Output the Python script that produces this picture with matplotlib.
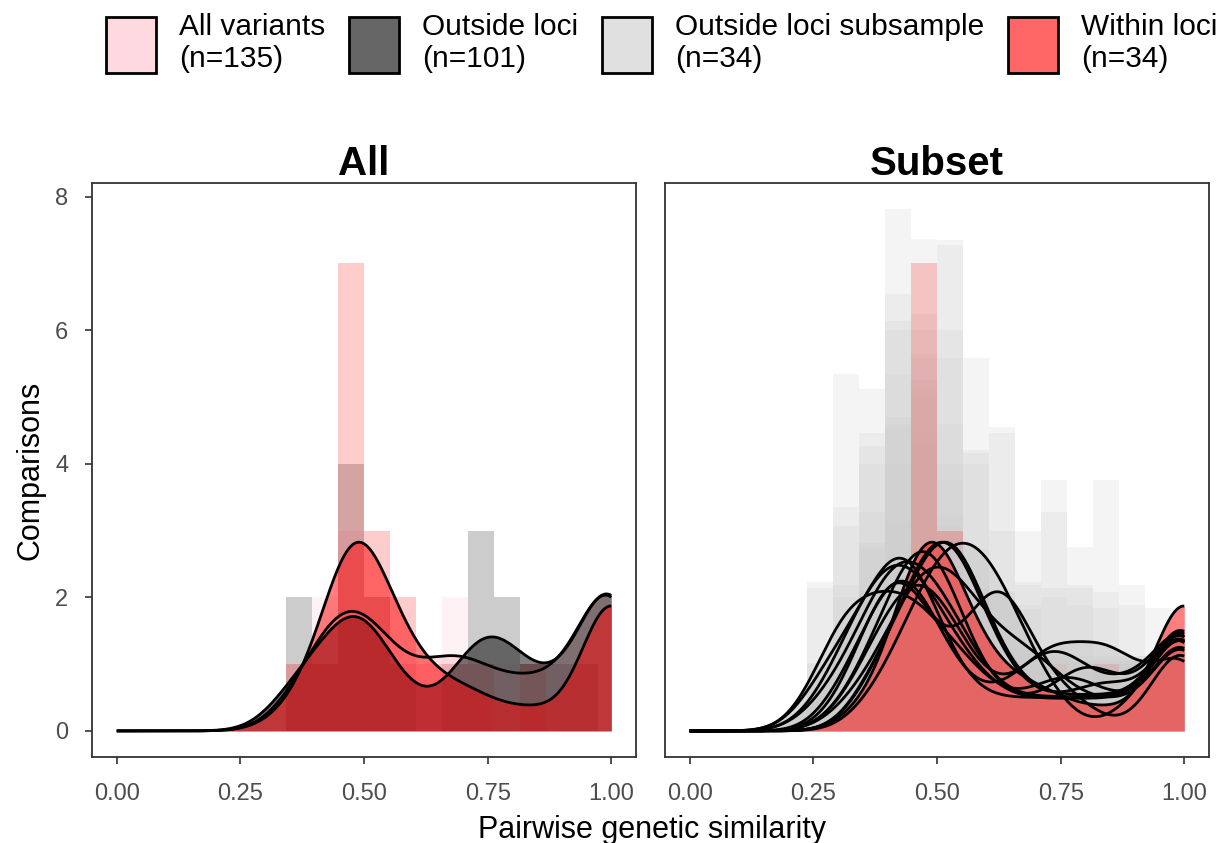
import numpy as np
import matplotlib
matplotlib.use("Agg")
import matplotlib.pyplot as plt
from matplotlib.patches import Patch

plt.rcParams['font.family'] = ['Liberation Sans', 'DejaVu Sans']

# pairwise similarity takes values k/19 (k = 5..19)
k_vals = np.arange(5, 20)
sim = k_vals / 19.0

# comparison counts per similarity value
all_counts = [0, 0, 1, 2, 3, 2, 1, 1, 2, 1, 1, 1, 1, 1, 6]
outside_counts = [0, 0, 2, 1, 4, 2, 1, 0, 1, 3, 2, 1, 1, 1, 7]
within_counts = [0, 0, 1, 1, 7, 3, 2, 1, 1, 1, 0, 1, 0, 0, 7]

# random subsamples of outside-loci variants (counts) and their count scaling
sub_counts = [
    [2, 3, 4, 7, 5, 2, 1, 1, 1, 1, 1, 1, 1, 1, 7],
    [0, 1, 3, 5, 8, 5, 2, 1, 1, 1, 3, 2, 1, 2, 6],
    [0, 0, 2, 3, 6, 7, 4, 2, 1, 1, 1, 2, 1, 1, 6],
    [2, 5, 4, 5, 4, 3, 2, 1, 1, 2, 2, 1, 1, 1, 6],
    [1, 3, 5, 6, 5, 3, 2, 1, 1, 1, 1, 1, 1, 1, 7],
    [0, 0, 1, 2, 4, 5, 5, 4, 2, 1, 0, 0, 1, 1, 5],
    [0, 1, 3, 5, 3, 1, 3, 5, 2, 1, 1, 0, 0, 1, 4],
    [0, 1, 2, 4, 6, 6, 4, 3, 3, 2, 1, 1, 1, 1, 6],
    [0, 2, 3, 6, 4, 2, 1, 1, 2, 3, 2, 1, 2, 1, 6],
    [0, 1, 3, 5, 6, 4, 2, 1, 2, 4, 2, 4, 2, 1, 5],
    [1, 2, 4, 6, 5, 4, 2, 1, 1, 1, 1, 1, 1, 1, 6],
    [0, 0, 2, 3, 5, 7, 4, 2, 1, 1, 1, 1, 1, 1, 6],
]
sub_scale = [1.116, 0.92, 1.04, 1.068, 1.024, 1.116, 0.91, 1.0, 1.09, 0.94, 1.0, 1.05]

legend_labels = ["All variants\n(n=135)", "Outside loci\n(n=101)",
                 "Outside loci subsample\n(n=34)", "Within loci\n(n=34)"]
col_all, col_out, col_sub, col_in = "#FFC0CB", "#000000", "#CCCCCC", "#FF0000"

grid = np.linspace(0, 1, 512)
binw = 1.0 / 19


def kde(weights, bw):
    w = np.asarray(weights, float)
    z = (grid[:, None] - sim[None, :]) / bw
    return (np.exp(-0.5 * z ** 2) * w).sum(axis=1) / (w.sum() * bw * np.sqrt(2 * np.pi))


def hist(ax, heights, color):
    # last bin (centred on 1.0) runs past the axis limit and is dropped
    h = np.asarray(heights, float)[:-1]
    ax.bar(sim[:-1], h, width=binw, color=color, alpha=0.2, linewidth=0)


def dens(ax, weights, bw, color):
    d = kde(weights, bw)
    ax.fill_between(grid, 0, d, color=color, alpha=0.5, linewidth=0)
    ax.plot(grid, d, color="black", lw=2.0, solid_capstyle="butt")


fig = plt.figure(figsize=(12.25, 8.43), dpi=100)
ax1 = fig.add_axes([92 / 1225, 86 / 843, 544 / 1225, 574 / 843])
ax2 = fig.add_axes([665 / 1225, 86 / 843, 544 / 1225, 574 / 843])

# left panel: all variants, outside loci, within loci
hist(ax1, all_counts, col_all)
hist(ax1, outside_counts, col_out)
hist(ax1, within_counts, col_in)
dens(ax1, all_counts, 0.06, col_all)
dens(ax1, outside_counts, 0.06, col_out)
dens(ax1, within_counts, 0.06, col_in)

# right panel: subsamples against within loci
for c, s in zip(sub_counts, sub_scale):
    hist(ax2, np.array(c) * s, col_sub)
hist(ax2, within_counts, col_in)
for c in sub_counts:
    dens(ax2, c, 0.055, col_sub)
dens(ax2, within_counts, 0.06, col_in)

ymax = max(max(np.array(c) * s) for c, s in zip(sub_counts, sub_scale))
for ax, title in [(ax1, "All"), (ax2, "Subset")]:
    ax.set_xlim(-0.05, 1.05)
    ax.set_ylim(-0.05 * ymax, 1.05 * ymax)
    ax.set_xticks([0, 0.25, 0.5, 0.75, 1.0])
    ax.set_xticklabels(["0.00", "0.25", "0.50", "0.75", "1.00"])
    ax.set_yticks([0, 2, 4, 6, 8])
    for sp in ax.spines.values():
        sp.set_color("#333333")
        sp.set_linewidth(1.3)
    ax.tick_params(direction="out", length=5, width=1.2, color="#333333",
                   labelcolor="#4D4D4D", labelsize=17)
    ax.tick_params(axis="x", pad=14)
    ax.tick_params(axis="y", pad=12)
    ax.set_title(title, fontsize=29, fontweight="bold", pad=2)
ax2.tick_params(axis="y", left=False, labelleft=False)

fig.text(0.0245, 0.4425, "Comparisons", rotation=90, ha="center", va="center", fontsize=22)
fig.text(0.532, 0.015, "Pairwise genetic similarity", ha="center", va="center", fontsize=22)


def key_colour(c):
    rgb = np.array(matplotlib.colors.to_rgb(c))
    return tuple(1 - 0.6 * (1 - rgb))


handles = [Patch(facecolor=key_colour(c), edgecolor="black", linewidth=2)
           for c in (col_all, col_out, col_sub, col_in)]
fig.legend(handles, legend_labels, loc="upper center", bbox_to_anchor=(0.540, 1.0095),
           ncol=4, frameon=False, fontsize=21.5, handlelength=1.67, handleheight=2.55,
           handletextpad=0.77, columnspacing=0.8, borderpad=0.2)

fig.savefig("out.png", dpi=100)
